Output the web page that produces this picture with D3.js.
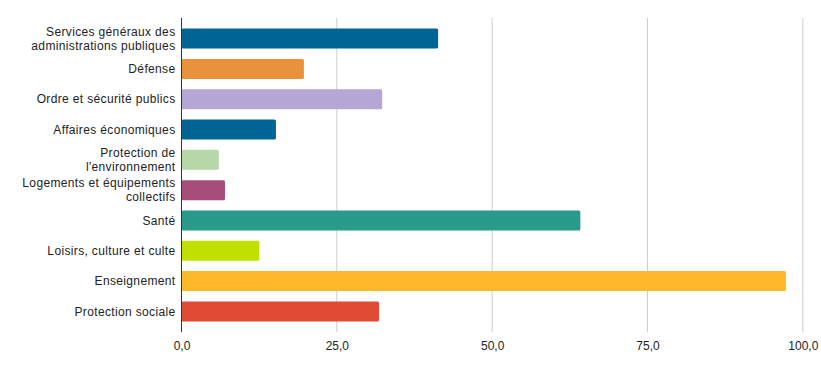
<!DOCTYPE html>
<html>
<head>
<meta charset="utf-8">
<script src="https://cdn.jsdelivr.net/npm/d3@7"></script>
<style>
  body { margin: 0; background: #fff; }
  text { font-family: "Liberation Sans", Arial, sans-serif; fill: #222; }
</style>
</head>
<body>
<div class="chart"></div>
<script>
// data
var categories = [
  ["Services généraux des", "administrations publiques"],
  ["Défense"],
  ["Ordre et sécurité publics"],
  ["Affaires économiques"],
  ["Protection de", "l'environnement"],
  ["Logements et équipements", "collectifs"],
  ["Santé"],
  ["Loisirs, culture et culte"],
  ["Enseignement"],
  ["Protection sociale"]
];
var values = [41.3, 19.7, 32.3, 15.2, 6.0, 7.0, 64.2, 12.5, 97.3, 31.8];
var barColors = ["#006494", "#e8923a", "#b4a7d6", "#006494", "#b6d7a8",
  "#a64d79", "#2a9a8a", "#c0e000", "#fdb92a", "#e04b36"];
var tickValues = [0, 25, 50, 75, 100];

var svgWidth = 821, svgHeight = 371;
var margin = { top: 18, right: 18, bottom: 39, left: 181.5 };
var width = svgWidth - margin.left - margin.right;
var height = svgHeight - margin.top - margin.bottom;

var svg = d3.select(".chart").append("svg")
  .attr("width", svgWidth)
  .attr("height", svgHeight);

var chart = svg.append("g")
  .attr("transform", "translate(" + margin.left + "," + margin.top + ")");

var x = d3.scaleLinear().domain([0, 100]).range([0, 621.3]);
var y = d3.scaleBand().domain(d3.range(categories.length)).range([0, height])
  .paddingInner(0.34).paddingOuter(0.35);

// gridlines
chart.selectAll("line.grid")
  .data(tickValues.slice(1))
  .enter().append("line")
  .attr("class", "grid")
  .attr("x1", function(d) { return x(d); })
  .attr("x2", function(d) { return x(d); })
  .attr("y1", 0).attr("y2", height)
  .attr("stroke", "#cccccc").attr("stroke-width", 1);

// bars
chart.selectAll("rect.bar")
  .data(values)
  .enter().append("rect")
  .attr("class", "bar")
  .attr("x", 0)
  .attr("y", function(d, i) { return y(i); })
  .attr("width", function(d) { return x(d); })
  .attr("height", y.bandwidth())
  .attr("rx", 1.5)
  .attr("fill", function(d, i) { return barColors[i]; });

// axis line
chart.append("line")
  .attr("x1", 0).attr("x2", 0)
  .attr("y1", 0).attr("y2", height)
  .attr("stroke", "#333").attr("stroke-width", 1);

// category labels
var labels = chart.selectAll("text.cat")
  .data(categories)
  .enter().append("text")
  .attr("class", "cat")
  .attr("text-anchor", "end")
  .style("font-size", "12px")
  .style("letter-spacing", "0.35px");

labels.each(function(lines, i) {
  var cy = y(i) + y.bandwidth() / 2;
  var start = cy - (lines.length - 1) * 14 / 2;
  d3.select(this).selectAll("tspan")
    .data(lines)
    .enter().append("tspan")
    .attr("x", -6)
    .attr("y", function(d, j) { return start + j * 14; })
    .attr("dy", "0.35em")
    .text(function(d) { return d; });
});

// x tick labels
var bottomAxis = d3.axisBottom(x)
  .tickValues(tickValues)
  .tickSize(0)
  .tickPadding(9)
  .tickFormat(function(d) { return d3.format(".1f")(d).replace(".", ","); });

var xAxisG = chart.append("g")
  .attr("transform", "translate(0," + height + ")")
  .call(bottomAxis);
xAxisG.select(".domain").remove();
xAxisG.selectAll("text")
  .style("font-size", "12px")
  .style("font-family", "'Liberation Sans', Arial, sans-serif")
  .attr("fill", "#222");
</script>
</body>
</html>
